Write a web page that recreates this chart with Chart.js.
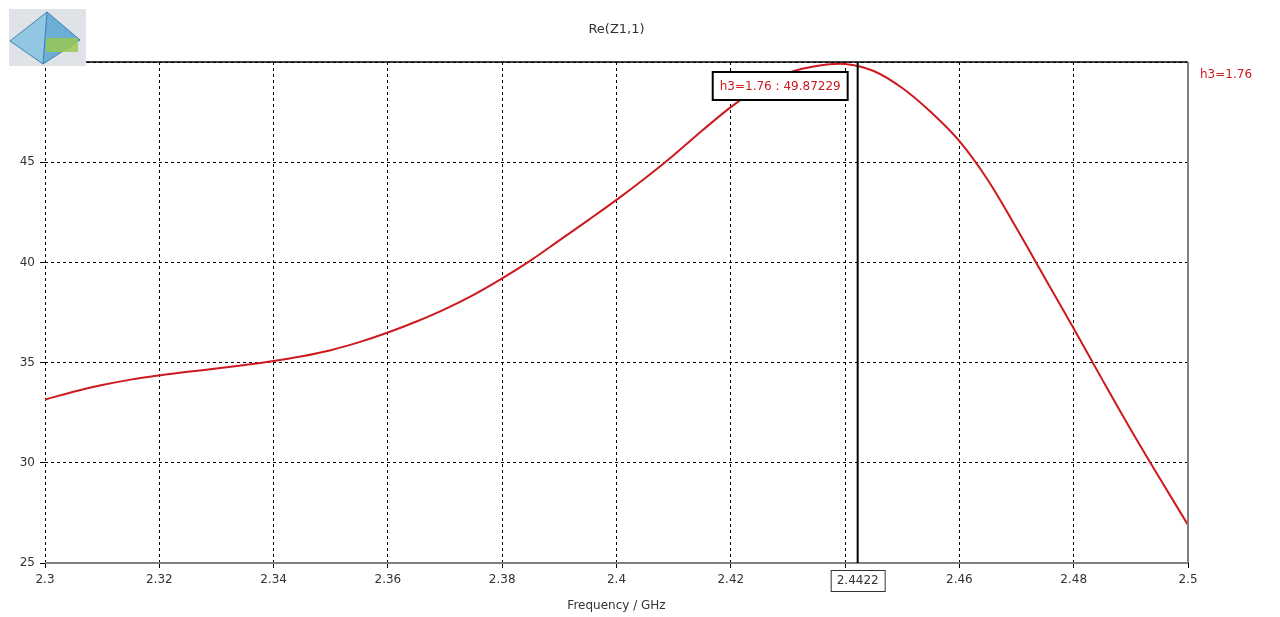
<!DOCTYPE html>
<html>
<head>
<meta charset="utf-8">
<script src="https://cdn.jsdelivr.net/npm/chart.js@4"></script>
<style>
html,body{margin:0;padding:0;background:#fff;}
#wrap{width:1280px;height:617px;position:relative;}
</style>
</head>
<body>
<div id="wrap"><canvas id="c"></canvas></div>
<script>
// ---- data ----
const freqGHz = [2.300, 2.305, 2.310, 2.315, 2.320, 2.325, 2.330, 2.335, 2.340, 2.345,
                 2.350, 2.355, 2.360, 2.365, 2.370, 2.375, 2.380, 2.385, 2.390, 2.395,
                 2.400, 2.405, 2.410, 2.415, 2.420, 2.425, 2.430, 2.435, 2.440, 2.445,
                 2.450, 2.455, 2.460, 2.465, 2.470, 2.475, 2.480, 2.485, 2.490, 2.495, 2.500];
const reZ11   = [33.15, 33.55, 33.88, 34.15, 34.36, 34.54, 34.70, 34.88, 35.08, 35.32,
                 35.62, 36.02, 36.50, 37.05, 37.67, 38.38, 39.20, 40.10, 41.10, 42.10,
                 43.12, 44.20, 45.35, 46.58, 47.75, 48.75, 49.45, 49.80, 49.90, 49.55,
                 48.70, 47.50, 46.05, 44.10, 41.70, 39.20, 36.70, 34.15, 31.65, 29.25, 26.90];
const seriesLabel = 'h3=1.76';
const xTicks = [2.3, 2.32, 2.34, 2.36, 2.38, 2.4, 2.42, 2.44, 2.46, 2.48, 2.5];
const yTicks = [25, 30, 35, 40, 45, 50];
const markerFreq = [2.4422];
const markerValue = [49.87229];
const chartTitle = 'Re(Z1,1)';
const xTitle = 'Frequency / GHz';

const FONT = '"DejaVu Sans", "Liberation Sans", sans-serif';
const RED = '#cc1a1f';
const TXT = '#333333';

const points = freqGHz.map((f, i) => ({x: f, y: reZ11[i]}));

const overlay = {
  id: 'overlay',
  afterDraw(chart) {
    const ctx = chart.ctx;
    const a = chart.chartArea;
    const xs = chart.scales.x;
    ctx.save();
    // top border (solid black)
    ctx.strokeStyle = '#000'; ctx.lineWidth = 1.5; ctx.setLineDash([]);
    ctx.beginPath(); ctx.moveTo(a.left, a.top); ctx.lineTo(a.right, a.top); ctx.stroke();
    // right border (gray)
    ctx.strokeStyle = '#808080'; ctx.lineWidth = 2;
    ctx.beginPath(); ctx.moveTo(a.right, a.top); ctx.lineTo(a.right, a.bottom); ctx.stroke();
    // bottom border (gray)
    ctx.beginPath(); ctx.moveTo(a.left, a.bottom); ctx.lineTo(a.right, a.bottom); ctx.stroke();

    // marker line
    const mx = xs.getPixelForValue(markerFreq[0]);
    ctx.strokeStyle = '#000'; ctx.lineWidth = 2;
    ctx.beginPath(); ctx.moveTo(mx, a.top); ctx.lineTo(mx, a.bottom); ctx.stroke();

    // marker label box
    ctx.font = '12px ' + FONT;
    const lbl = seriesLabel + ' : ' + markerValue[0].toFixed(5);
    const tw = ctx.measureText(lbl).width;
    const bw = tw + 14, bh = 28;
    const bx = mx - 10 - bw, by = a.top + 10;
    ctx.fillStyle = '#fff'; ctx.fillRect(bx, by, bw, bh);
    ctx.strokeStyle = '#000'; ctx.lineWidth = 2; ctx.strokeRect(bx, by, bw, bh);
    ctx.fillStyle = RED; ctx.textBaseline = 'middle'; ctx.textAlign = 'center';
    ctx.fillText(lbl, bx + bw / 2, by + bh / 2 + 1);

    // x marker box
    const xl = String(markerFreq[0]);
    const xw = ctx.measureText(xl).width + 12;
    ctx.fillStyle = '#fff'; ctx.fillRect(mx - xw / 2, a.bottom + 7, xw, 21);
    ctx.strokeStyle = '#333'; ctx.lineWidth = 1; ctx.strokeRect(mx - xw / 2 + 0.5, a.bottom + 7.5, xw, 21);
    ctx.fillStyle = TXT; ctx.fillText(xl, mx, a.bottom + 18);

    // legend text
    ctx.textAlign = 'left'; ctx.fillStyle = RED;
    ctx.fillText(chart.data.datasets[0].label, a.right + 12, a.top + 13);

    // logo (simple pyramid picture)
    ctx.fillStyle = '#dfe3e8'; ctx.fillRect(9, 9, 77, 57);
    ctx.fillStyle = 'rgba(120,190,225,0.75)';
    ctx.beginPath(); ctx.moveTo(47, 12); ctx.lineTo(10, 41); ctx.lineTo(43, 64); ctx.closePath(); ctx.fill();
    ctx.fillStyle = 'rgba(80,160,210,0.8)';
    ctx.beginPath(); ctx.moveTo(47, 12); ctx.lineTo(43, 64); ctx.lineTo(80, 40); ctx.closePath(); ctx.fill();
    ctx.strokeStyle = 'rgba(50,120,170,0.9)'; ctx.lineWidth = 1;
    ctx.beginPath(); ctx.moveTo(47, 12); ctx.lineTo(10, 41); ctx.lineTo(43, 64); ctx.lineTo(80, 40); ctx.closePath();
    ctx.moveTo(47, 12); ctx.lineTo(43, 64); ctx.stroke();
    ctx.fillStyle = 'rgba(150,200,80,0.85)';
    ctx.fillRect(46, 38, 32, 14);
    ctx.restore();
  }
};

new Chart(document.getElementById('c'), {
  type: 'scatter',
  data: {
    datasets: [{
      label: seriesLabel,
      data: points,
      showLine: true,
      borderColor: RED,
      borderWidth: 2,
      pointRadius: 0,
      tension: 0.35,
      fill: false
    }]
  },
  options: {
    responsive: true,
    maintainAspectRatio: false,
    animation: false,
    layout: {padding: {left: 0, right: 92, top: 0, bottom: 0}},
    plugins: {
      legend: {display: false},
      tooltip: {enabled: false},
      title: {
        display: true, text: chartTitle, fullSize: false,
        color: TXT, font: {family: FONT, size: 13, weight: 'normal'},
        padding: {top: 22, bottom: 24.4}
      }
    },
    scales: {
      x: {
        type: 'linear', min: 2.3, max: 2.5,
        afterBuildTicks(s) { s.ticks = xTicks.map(v => ({value: v})); },
        afterFit(s) { s.height = 54; },
        ticks: {
          color: TXT, font: {family: FONT, size: 12}, padding: 5, maxRotation: 0, autoSkip: false,
          callback: (v) => Math.abs(v - 2.44) < 1e-6 ? '' : String(parseFloat(Number(v).toFixed(4)))
        },
        grid: {color: '#000', lineWidth: 1, tickLength: 5, drawTicks: true},
        border: {display: false, dash: [3, 3]},
        title: {display: true, text: xTitle, color: TXT, font: {family: FONT, size: 12}, padding: {top: 4, bottom: 4}}
      },
      y: {
        min: 25, max: 50,
        afterBuildTicks(s) { s.ticks = yTicks.map(v => ({value: v})); },
        afterFit(s) { s.width = 45; },
        ticks: {color: TXT, font: {family: FONT, size: 12}, padding: 5},
        grid: {color: '#000', lineWidth: 1, tickLength: 5},
        border: {display: false, dash: [3, 3]}
      }
    }
  },
  plugins: [overlay]
});
</script>
</body>
</html>
